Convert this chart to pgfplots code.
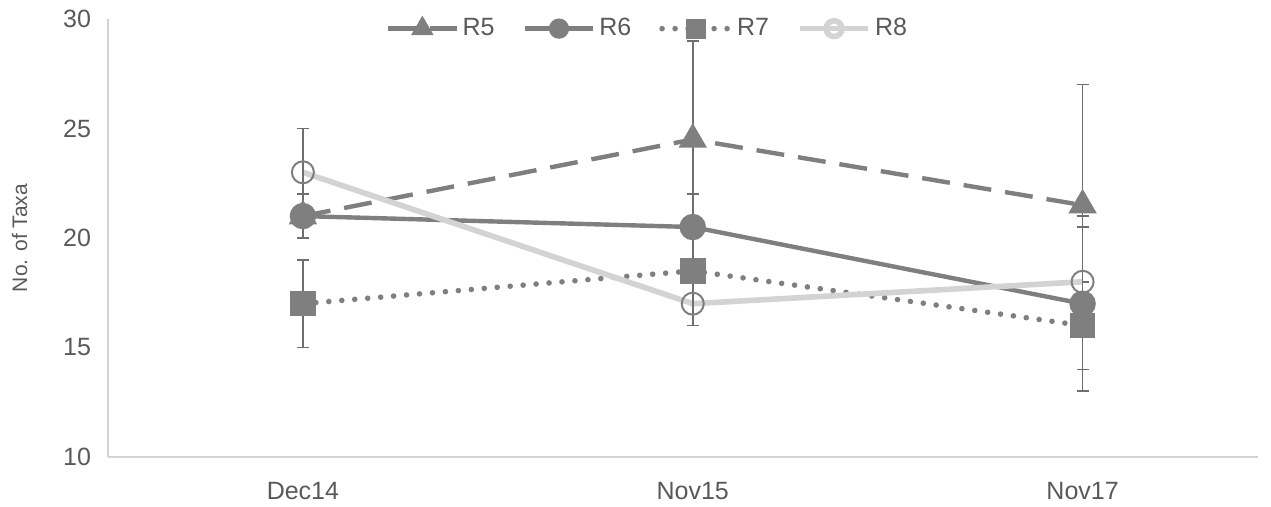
\documentclass[border=0pt]{standalone}
\usepackage{pgfplots}
\pgfplotsset{compat=1.18}
\usepackage{fontspec}
\setmainfont{Liberation Sans}
\definecolor{dk}{HTML}{7F7F7F}
\definecolor{lt}{HTML}{D3D3D3}
\definecolor{eb}{HTML}{6E6E6E}
\begin{document}
\begin{tikzpicture}
\begin{axis}[
  scale only axis,
  width=575pt, height=219pt,
  xmin=-0.5, xmax=2.45,
  ymin=10, ymax=30,
  ytick={10,15,...,30},
  xtick={0,1,2},
  xticklabels={Dec14,Nov15,Nov17},
  axis x line*=bottom, axis y line*=left,
  axis line style={draw=lt, line width=0.8pt, -},
  major tick length=0pt,
  tick label style={font=\fontsize{12.5}{14}\selectfont, text=black!65},
  /pgf/number format/assume math mode=true,
  xticklabel style={yshift=-9pt},
  yticklabel style={xshift=-5pt},
  ylabel={No. of Taxa},
  ylabel style={font=\fontsize{10.5}{12}\selectfont, text=black!65, yshift=11pt},
  legend style={at={(0.47,0.978)}, anchor=center, draw=none, fill=none,
    legend columns=-1, font=\fontsize{12.5}{14}\selectfont, text=black!65,
    /tikz/every even column/.append style={column sep=12pt}},
  legend image code/.code={
    \draw[#1, mark=none] (0cm,0cm) -- (1.2cm,0cm);
    \draw[#1, solid, draw=none, mark options={scale=0.72}] plot coordinates {(0.6cm,0cm)};
  },
  error bars/error bar style={draw=eb, line width=0.8pt, solid},
  error bars/error mark options={rotate=90, mark size=3pt, draw=eb, line width=0.8pt, solid},
]
\addplot[dk, line width=2.2pt, dash pattern=on 14pt off 7pt, mark=triangle*,
  mark size=6pt, mark options={solid, fill=dk, draw=dk},
  error bars/.cd, y dir=both, y explicit]
  coordinates {(0,21) +- (0,0) (1,24.5) +- (0,4.5) (2,21.5) +- (0,5.5)};
\addlegendentry{R5}
\addplot[dk, line width=2.2pt, mark=*, mark size=5.5pt,
  mark options={solid, fill=dk, draw=dk},
  error bars/.cd, y dir=both, y explicit]
  coordinates {(0,21) +- (0,1) (1,20.5) +- (0,1.5) (2,17) +- (0,4)};
\addlegendentry{R6}
\addplot[dk, line width=2.8pt, line cap=round, dash pattern=on 0pt off 6.5pt,
  mark=square*, mark size=5pt, mark options={solid, fill=dk, draw=dk},
  error bars/.cd, y dir=both, y explicit]
  coordinates {(0,17) +- (0,2) (1,18.5) +- (0,0) (2,16) +- (0,2)};
\addlegendentry{R7}
\addplot[lt, line width=2.8pt, mark=o, mark size=5.5pt,
  mark options={solid, draw=dk, fill=white, fill opacity=0, line width=1pt},
  error bars/.cd, y dir=both, y explicit]
  coordinates {(0,23) +- (0,2) (1,17) +- (0,1) (2,18) +- (0,2.5)};
\addlegendentry{R8}
\end{axis}
\useasboundingbox (-54pt,-25pt) rectangle (581.5pt,228.5pt);
\end{tikzpicture}
\end{document}
